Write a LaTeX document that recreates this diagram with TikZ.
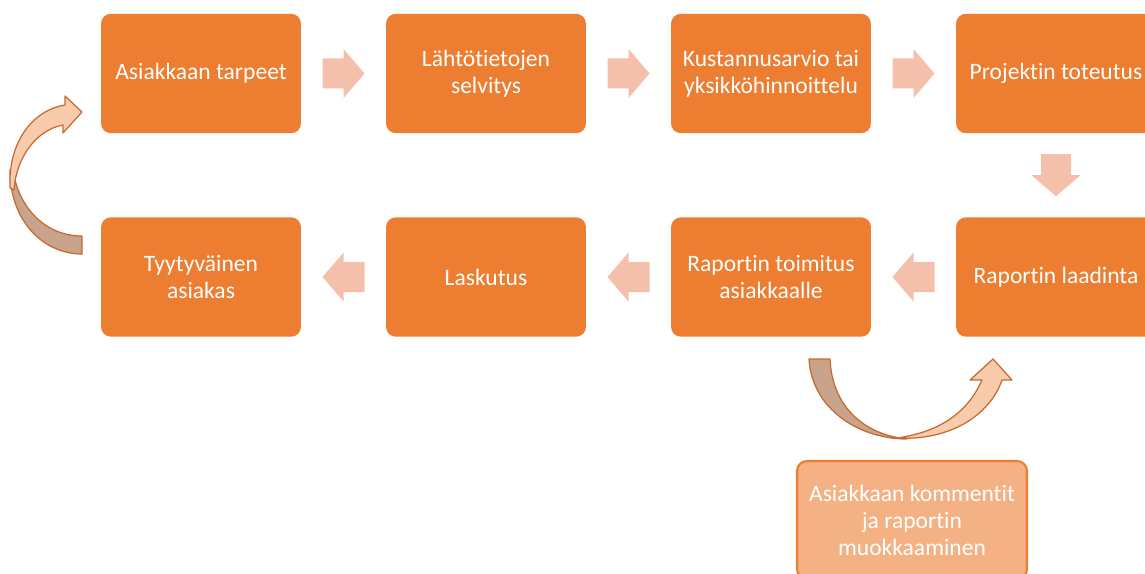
\documentclass[tikz,border=0pt]{standalone}
\usepackage{fontspec}
\setmainfont[Ligatures=NoCommon]{Carlito}
\usetikzlibrary{calc}
\definecolor{boxorange}{HTML}{ED7D31}
\definecolor{arrowpink}{HTML}{F5C0AB}
\definecolor{bandlight}{HTML}{F8CBAD}
\definecolor{banddark}{HTML}{C9A38C}
\definecolor{bandedge}{HTML}{C46A2C}
\definecolor{notefill}{HTML}{F4B183}
\tikzset{
  stepbox/.style={rectangle, rounded corners=0.2cm, fill=boxorange, draw=none,
    minimum width=4cm, minimum height=2.39cm, text=white, align=center,
    font=\fontsize{13.4}{15.4}\selectfont, inner sep=2pt},
  notebox/.style={stepbox, fill=notefill, draw=boxorange, line width=1.2pt,
    minimum width=4.6cm, minimum height=2.36cm},
  band/.style={draw=bandedge, line width=0.7pt, line join=round},
  pics/blockarrow/.style={code={
    \fill[arrowpink] (-21,-15) -- (0,-15) -- (0,-24.5) -- (21,0) -- (0,24.5)
      -- (0,15) -- (-21,15) -- cycle;}}
}
\begin{document}
\begin{tikzpicture}[x=0.02cm, y=-0.02cm]
\useasboundingbox (0,0) rectangle (1145,574);
\clip (0,0) rectangle (1145,574);

% process steps, top row
\node[stepbox] (s1) at (201,73.5) {Asiakkaan tarpeet};
\node[stepbox] (s2) at (486,73.5) {Lähtötietojen\\selvitys};
\node[stepbox] (s3) at (771,73.5) {Kustannusarvio tai\\yksikköhinnoittelu};
\node[stepbox] (s4) at (1056,73.5) {Projektin toteutus};
% bottom row
\node[stepbox] (s5) at (1056,277) {Raportin laadinta};
\node[stepbox] (s6) at (771,277) {Raportin toimitus\\asiakkaalle};
\node[stepbox] (s7) at (486,277) {Laskutus};
\node[stepbox] (s8) at (201,277) {Tyytyväinen\\asiakas};
% customer feedback loop
\node[notebox] (n1) at (912,520) {Asiakkaan kommentit\\ja raportin\\muokkaaminen};

% block arrows between the steps
\pic at ($(s1.east)!0.5!(s2.west)$) {blockarrow};
\pic at ($(s2.east)!0.5!(s3.west)$) {blockarrow};
\pic at ($(s3.east)!0.5!(s4.west)$) {blockarrow};
\pic[rotate=-90] at ($(s4.south)!0.5!(s5.north)$) {blockarrow};
\pic[rotate=180] at ($(s5.west)!0.5!(s6.east)$) {blockarrow};
\pic[rotate=180] at ($(s6.west)!0.5!(s7.east)$) {blockarrow};
\pic[rotate=180] at ($(s7.west)!0.5!(s8.east)$) {blockarrow};

% curved arrow from the satisfied customer back to the start
\path[band, fill=banddark]
  (10,170) .. controls (10,222) and (44,254) .. (82,254)
  -- (82,236) .. controls (48,236) and (22,212) .. (14,176) -- cycle;
\path[band, fill=bandlight]
  (10,188) .. controls (8,140) and (34,110) .. (65,105)
  -- (65,96) -- (82,112) -- (63,133) -- (63,125)
  .. controls (36,130) and (16,158) .. (14,190) -- cycle;

% curved arrow from report delivery back to report writing
\path[band, fill=banddark]
  (809,359) .. controls (812,410) and (860,439) .. (907,439)
  -- (900,438) .. controls (862,432) and (832,405) .. (830,359) -- cycle;
\path[band, fill=bandlight]
  (897,438) .. controls (950,441) and (990,415) .. (1002,380)
  -- (1012,380) -- (993,359) -- (970,380) -- (982,380)
  .. controls (968,412) and (940,432) .. (897,438) -- cycle;
\end{tikzpicture}
\end{document}
